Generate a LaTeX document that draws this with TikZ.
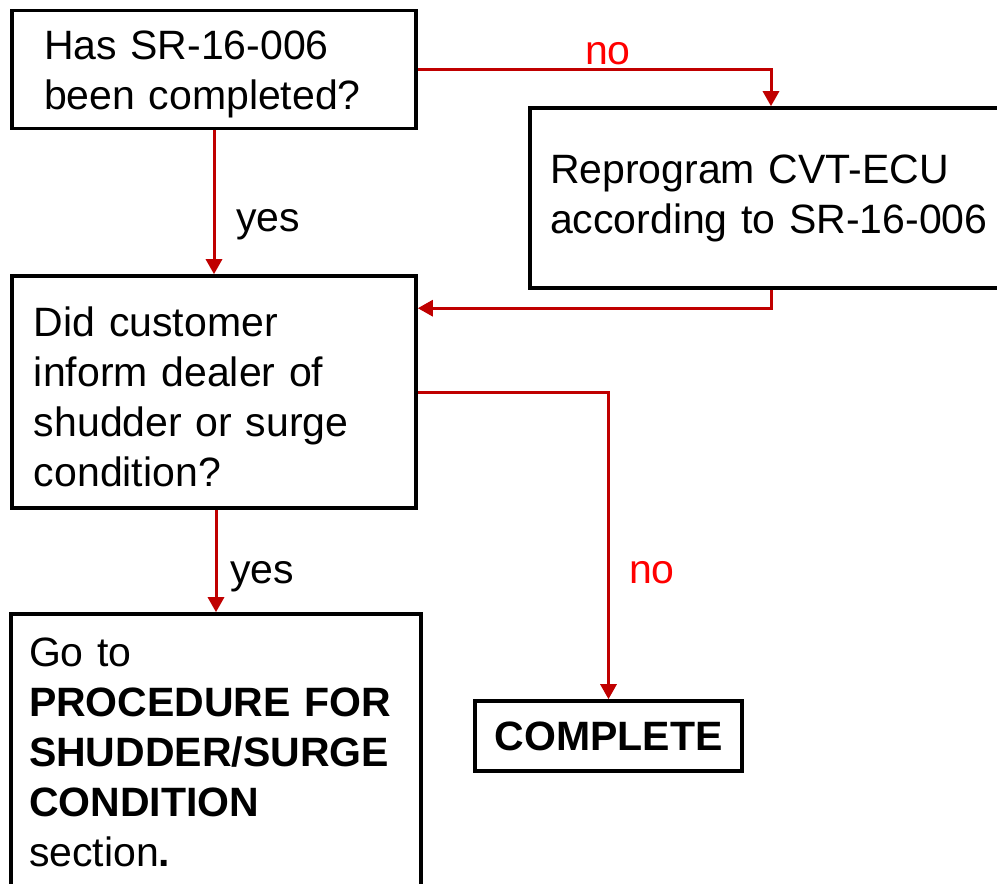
\documentclass[tikz,border=0pt]{standalone}
\usepackage{fontspec}
\setmainfont{Liberation Sans}
\usetikzlibrary{arrows.meta,calc}
\definecolor{arrowred}{HTML}{C00000}
\definecolor{labelred}{HTML}{FF0000}
\newcommand{\lowerby}[1]{\rule{0pt}{\dimexpr 37pt+#1\relax}}
\begin{document}
\begin{tikzpicture}[x=1pt,y=-1pt,
  box/.style={draw=black,line width=3.6pt,rectangle,align=left,inner ysep=0pt,
    font=\fontsize{41}{50}\selectfont},
  flow/.style={draw=arrowred,line width=3pt,-{Triangle[width=16pt,length=15pt]}},
  lab/.style={font=\fontsize{41}{50}\selectfont,inner sep=0pt},
  nolab/.style={lab,text=labelred}]
\clip (0,0) rectangle (997,884);
\fill[white] (0,0) rectangle (997,884);

\node[box,minimum width=404pt,minimum height=118pt,text width=340pt,inner xsep=32pt] (q1) at (214,69.5)
  {\lowerby{1.4pt}Has SR-16-006\\been completed?};
\node[box,minimum width=482pt,minimum height=180pt,text width=442pt,inner xsep=20pt] (rep) at (771,198)
  {Reprogram CVT-ECU\\according to SR-16-006};
\node[box,minimum width=404pt,minimum height=232pt,text width=360pt,inner xsep=22pt] (q3) at (214,392)
  {\lowerby{2.4pt}Did customer\\inform dealer of\\shudder or surge\\condition?};
\node[box,minimum width=410pt,minimum height=276pt,text width=374pt,inner xsep=18pt] (go) at (216,752)
  {Go to\\\textbf{PROCEDURE FOR}\\\textbf{SHUDDER/SURGE}\\\textbf{CONDITION}\\section\textbf{.}};
\node[box,minimum width=267pt,minimum height=70pt,align=center,inner xsep=0pt] (done) at (608.5,736)
  {\textbf{COMPLETE}};

\draw[flow] (q1.east) -| (rep.north);
\draw[flow] (q1.south) -- (q3.north);
\coordinate (m1) at ($(q3.north east)+(0,34)$);
\draw[flow] (rep.south) |- (m1);
\coordinate (m2) at (608.5,392);
\draw[flow] (q3.east) -- (m2) -- (done.north);
\draw[flow] (go.north |- q3.south) -- (go.north);

\node[nolab] (l1) at (608,54) {no};
\node[lab] (l2) at (268,225) {yes};
\node[lab] (l3) at (262,577) {yes};
\node[nolab] (l4) at (652,573) {no};
\end{tikzpicture}
\end{document}
